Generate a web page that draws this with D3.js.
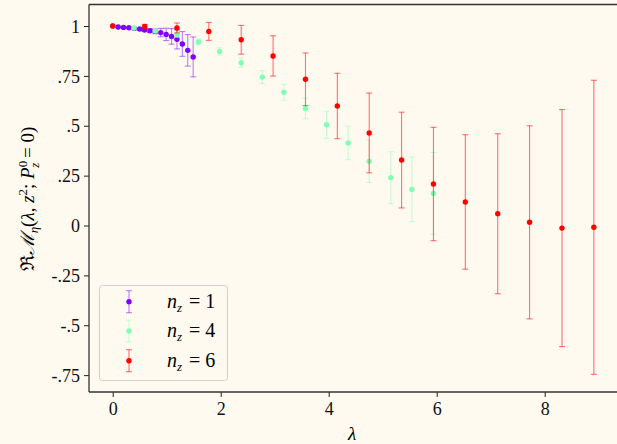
<!DOCTYPE html>
<html>
<head>
<meta charset="utf-8">
<script src="https://cdn.jsdelivr.net/npm/d3@7"></script>
<style>
  body { margin: 0; background: #fffaf0; }
  svg { display: block; font-family: "Liberation Serif", "DejaVu Serif", serif; }
  .axis text { font-size: 18px; fill: #111; font-family: "Liberation Serif", serif; }
  .axis line { stroke: #222; stroke-width: 1; }
  .axis path { display: none; }
</style>
</head>
<body>
<div id="chart"></div>
<script>
// n_z = 1
var lambda1 = [0, 0.1, 0.2, 0.3, 0.4, 0.5, 0.59, 0.69, 0.79, 0.89, 0.99, 1.09, 1.19, 1.29, 1.39, 1.49];
var value1  = [1.0, 0.995, 0.993, 0.991, 0.988, 0.985, 0.98, 0.976, 0.973, 0.967, 0.958, 0.948, 0.933, 0.91, 0.878, 0.845];
var error1  = [0, 0.001, 0.002, 0.003, 0.004, 0.005, 0.007, 0.009, 0.012, 0.021, 0.031, 0.039, 0.048, 0.062, 0.079, 0.1];

// n_z = 4
var lambda4 = [0, 0.396, 0.79, 1.19, 1.585, 1.98, 2.38, 2.77, 3.17, 3.57, 3.96, 4.36, 4.75, 5.15, 5.54, 5.94];
var value4  = [1.0, 0.99, 0.975, 0.956, 0.92, 0.873, 0.816, 0.744, 0.668, 0.587, 0.505, 0.414, 0.322, 0.24, 0.181, 0.161];
var error4  = [0, 0.003, 0.006, 0.013, 0.015, 0.018, 0.023, 0.032, 0.04, 0.052, 0.068, 0.084, 0.106, 0.13, 0.162, 0.205];

// n_z = 6
var lambda6 = [0, 0.594, 1.19, 1.78, 2.38, 2.97, 3.57, 4.16, 4.75, 5.35, 5.94, 6.53, 7.13, 7.72, 8.32, 8.91];
var value6  = [1.0, 0.998, 0.99, 0.973, 0.931, 0.85, 0.733, 0.599, 0.464, 0.328, 0.208, 0.118, 0.059, 0.016, -0.013, -0.009];
var error6  = [0, 0.01, 0.025, 0.045, 0.072, 0.101, 0.132, 0.164, 0.2, 0.24, 0.284, 0.337, 0.401, 0.484, 0.594, 0.737];

var seriesNames = ["1", "4", "6"];
var seriesColors = ["#8000ff", "#80ffb4", "#ff0000"];
var barOpacity = [0.5, 0.45, 0.55];

var xTicks = [0, 2, 4, 6, 8];
var yTicks = [1, 0.75, 0.5, 0.25, 0, -0.25, -0.5, -0.75];
var yTickLabels = ["1", ".75", ".5", ".25", "0", "-.25", "-.5", "-.75"];

var width = 617, height = 444;
var plot = {left: 89, top: 4.5, right: 617, bottom: 392};

var svg = d3.select("#chart").append("svg")
    .attr("width", width)
    .attr("height", height);

svg.append("rect")
    .attr("width", width).attr("height", height)
    .attr("fill", "#fffaf0");

var x = d3.scaleLinear().domain([-0.439, 9.339]).range([plot.left, plot.right]);
var y = d3.scaleLinear().domain([-0.8346, 1.1078]).range([plot.bottom, plot.top]);

// axes
svg.append("g")
    .attr("class", "axis")
    .attr("transform", "translate(" + plot.left + ",0)")
    .call(d3.axisLeft(y).tickValues(yTicks).tickSize(5).tickPadding(4).tickSizeOuter(0)
      .tickFormat(function(d, i) { return yTickLabels[i]; }))
    .selectAll("text").attr("dy", "0.34em");

svg.append("g")
    .attr("class", "axis")
    .attr("transform", "translate(0," + plot.bottom + ")")
    .call(d3.axisBottom(x).tickValues(xTicks).tickSize(5).tickPadding(5).tickSizeOuter(0)
      .tickFormat(d3.format("d")));

// spines
var spine = svg.append("g").attr("stroke", "#333").attr("stroke-width", 1.3).attr("fill", "none");
spine.append("line").attr("x1", plot.left).attr("x2", plot.left).attr("y1", plot.top).attr("y2", plot.bottom);
spine.append("line").attr("x1", plot.left).attr("x2", plot.right).attr("y1", plot.bottom).attr("y2", plot.bottom);
spine.append("line").attr("x1", plot.left).attr("x2", plot.right).attr("y1", plot.top).attr("y2", plot.top);

// series
var series = [
  {lambda: lambda1, value: value1, error: error1},
  {lambda: lambda4, value: value4, error: error4},
  {lambda: lambda6, value: value6, error: error6}
];

var cap = 3;

series.forEach(function(s, si) {
  var pts = s.lambda.map(function(l, i) {
    return {l: l, v: s.value[i], e: s.error[i]};
  });
  var g = svg.append("g");

  var bars = g.selectAll(".bar")
    .data(pts.filter(function(d) { return d.e > 0; }))
    .enter().append("g")
      .attr("stroke", seriesColors[si])
      .attr("stroke-opacity", barOpacity[si])
      .attr("stroke-width", 1.1);

  bars.append("line")
    .attr("x1", function(d) { return x(d.l); })
    .attr("x2", function(d) { return x(d.l); })
    .attr("y1", function(d) { return y(d.v + d.e); })
    .attr("y2", function(d) { return y(d.v - d.e); });
  [1, -1].forEach(function(sign) {
    bars.append("line")
      .attr("x1", function(d) { return x(d.l) - cap; })
      .attr("x2", function(d) { return x(d.l) + cap; })
      .attr("y1", function(d) { return y(d.v + sign * d.e); })
      .attr("y2", function(d) { return y(d.v + sign * d.e); });
  });

  g.selectAll(".dot")
    .data(pts)
    .enter().append("circle")
      .attr("cx", function(d) { return x(d.l); })
      .attr("cy", function(d) { return y(d.v); })
      .attr("r", 2.7)
      .attr("fill", seriesColors[si]);
});

// axis labels
svg.append("text")
    .attr("x", (plot.left + plot.right) / 2 - 1)
    .attr("y", 440)
    .attr("text-anchor", "middle")
    .attr("font-size", 19)
    .attr("font-style", "italic")
    .text("λ");

var yl = svg.append("text")
    .attr("transform", "translate(34,199) rotate(-90)")
    .attr("text-anchor", "middle")
    .attr("font-size", 19);
yl.append("tspan").text("ℜ");
yl.append("tspan").attr("font-style", "italic").text("ℳ");
yl.append("tspan").attr("font-style", "italic").attr("font-size", 13).attr("dy", 4).text("η");
yl.append("tspan").attr("dy", -4).text("(");
yl.append("tspan").attr("font-style", "italic").text("λ");
yl.append("tspan").text(", ");
yl.append("tspan").attr("font-style", "italic").text("z");
yl.append("tspan").attr("font-size", 13).attr("dy", -7).text("2");
yl.append("tspan").attr("dy", 7).text("; ");
yl.append("tspan").attr("font-style", "italic").text("P");
yl.append("tspan").attr("font-size", 13).attr("dy", -7).text("0");
yl.append("tspan").attr("font-size", 13).attr("font-style", "italic").attr("dx", -7).attr("dy", 12).text("z");
yl.append("tspan").attr("dy", -5).text(" = 0)");

// legend
var legend = svg.append("g");
legend.append("rect")
    .attr("x", 99.5).attr("y", 285.5)
    .attr("width", 128).attr("height", 95)
    .attr("rx", 3)
    .attr("fill", "#fffaf0")
    .attr("stroke", "#d0d0d0")
    .attr("stroke-width", 1);

var legendRows = [301.7, 331, 360.7];
seriesNames.forEach(function(name, i) {
  var row = legend.append("g").attr("transform", "translate(129," + legendRows[i] + ")");
  var b = row.append("g").attr("stroke", seriesColors[i]).attr("stroke-opacity", barOpacity[i]).attr("stroke-width", 1.1);
  b.append("line").attr("x1", 0).attr("x2", 0).attr("y1", -11).attr("y2", 11);
  b.append("line").attr("x1", -cap).attr("x2", cap).attr("y1", -11).attr("y2", -11);
  b.append("line").attr("x1", -cap).attr("x2", cap).attr("y1", 11).attr("y2", 11);
  row.append("circle").attr("r", 2.7).attr("fill", seriesColors[i]);

  var t = row.append("text").attr("x", 38).attr("y", 6).attr("font-size", 20);
  t.append("tspan").attr("font-style", "italic").text("n");
  t.append("tspan").attr("font-style", "italic").attr("font-size", 13).attr("dy", 4).text("z");
  t.append("tspan").attr("dy", -4).attr("dx", 7).text("= " + name);
});
</script>
</body>
</html>
